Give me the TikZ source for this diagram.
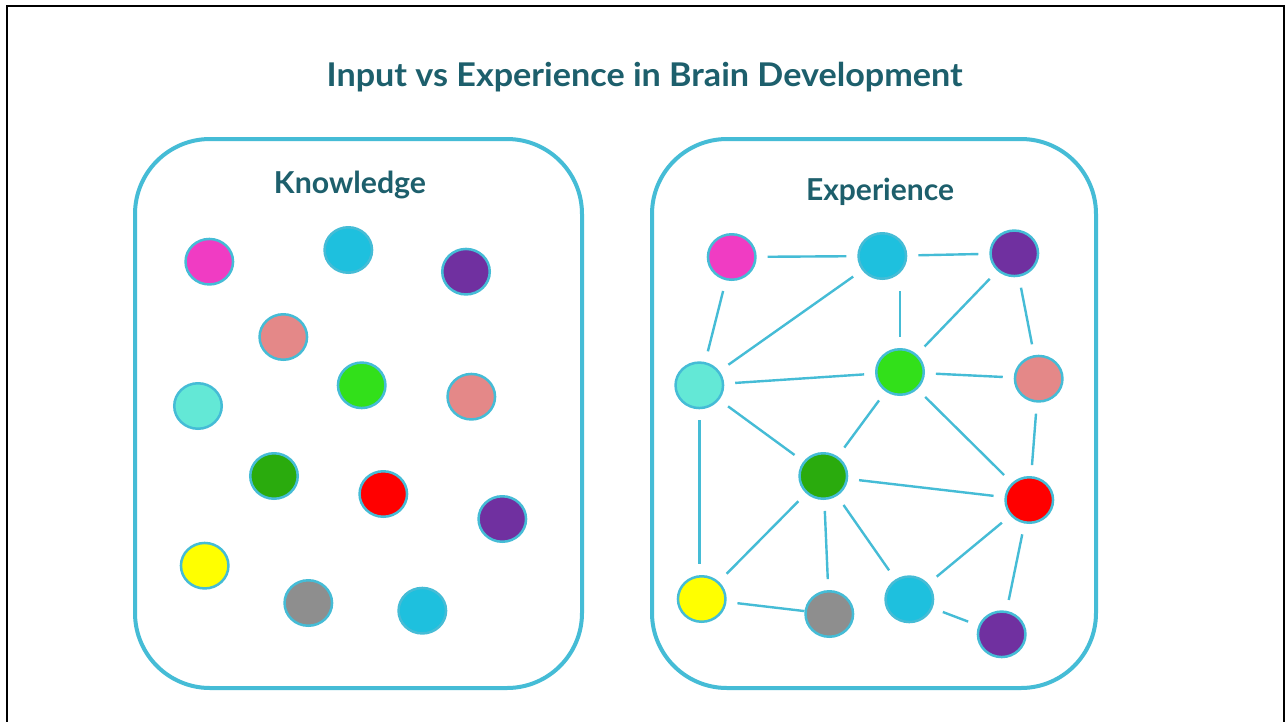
\documentclass[tikz,border=0pt]{standalone}
\usepackage{fontspec}
\usepackage{graphicx}
\setmainfont{Lato}
\usetikzlibrary{shapes.geometric}
\definecolor{outl}{HTML}{45BCD6}
\definecolor{titlec}{HTML}{1D5F6C}
\definecolor{cMag}{HTML}{F03CC3}
\definecolor{cCyan}{HTML}{1EC0DE}
\definecolor{cPur}{HTML}{7030A0}
\definecolor{cSal}{HTML}{E48888}
\definecolor{cMint}{HTML}{63E8D6}
\definecolor{cLime}{HTML}{32E01A}
\definecolor{cDGr}{HTML}{2AAB0D}
\definecolor{cRed}{HTML}{FF0000}
\definecolor{cYel}{HTML}{FFFF00}
\definecolor{cGray}{HTML}{8E8E8E}
\tikzset{
  dot/.style={ellipse, draw=outl, line width=2.5pt, minimum width=47.5pt, minimum height=45.5pt, inner sep=0pt},
  panel/.style={draw=outl, line width=4pt, rounded corners=75pt},
  link/.style={draw=outl, line width=2.4pt, shorten >=11pt, shorten <=11pt},
  head/.style={text=titlec, font=\bfseries\fontsize{30.2}{34}\selectfont, anchor=base, inner sep=0pt},
}
\begin{document}
\begin{tikzpicture}[x=1pt,y=-1pt]
\useasboundingbox (0,0) rectangle (1286,721);
\clip (0,0) rectangle (1286,721);
\fill[white] (0,0) rectangle (1286,721);
\draw[line width=2.3pt] (6.8,5.8) rectangle (1284,760);

\node[text=titlec, font=\bfseries\fontsize{32.7}{36}\selectfont, anchor=base, inner sep=0pt] (title) at (644.7,86.7) {\resizebox{636pt}{\height}{Input vs Experience in Brain Development}};

\draw[panel] (135,139) rectangle (582,688);
\draw[panel] (652,139) rectangle (1096,688);

\node[head] (klab) at (350,193.3) {\resizebox{152pt}{\height}{Knowledge}};
\node[head] (elab) at (880,200) {\resizebox{148pt}{\height}{Experience}};

% Knowledge: scattered
\node[dot, fill=cMag]  (k1)  at (209.3,261.7) {};
\node[dot, fill=cCyan] (k2)  at (348.3,250) {};
\node[dot, fill=cPur]  (k3)  at (466,271.7) {};
\node[dot, fill=cSal]  (k4)  at (283.3,337) {};
\node[dot, fill=cMint] (k5)  at (198,406) {};
\node[dot, fill=cLime] (k6)  at (361.7,385.3) {};
\node[dot, fill=cSal]  (k7)  at (471.3,396.7) {};
\node[dot, fill=cDGr]  (k8)  at (274,476) {};
\node[dot, fill=cRed]  (k9)  at (383.3,494) {};
\node[dot, fill=cPur]  (k10) at (502.3,519) {};
\node[dot, fill=cYel]  (k11) at (204.7,565.7) {};
\node[dot, fill=cGray] (k12) at (308.3,603) {};
\node[dot, fill=cCyan] (k13) at (422.3,610.7) {};

% Experience: network
\node[dot, fill=cMag]  (e1)  at (731.7,257) {};
\node[dot, fill=cCyan] (e2)  at (882.3,256) {};
\node[dot, fill=cPur]  (e3)  at (1014.3,253.3) {};
\node[dot, fill=cMint] (e4)  at (699.3,385.3) {};
\node[dot, fill=cLime] (e5)  at (900,372) {};
\node[dot, fill=cSal]  (e6)  at (1038.7,378.7) {};
\node[dot, fill=cDGr]  (e7)  at (823.3,476) {};
\node[dot, fill=cRed]  (e8)  at (1029.3,500) {};
\node[dot, fill=cYel]  (e9)  at (701.7,599) {};
\node[dot, fill=cGray] (e10) at (829.3,614) {};
\node[dot, fill=cCyan] (e11) at (909.3,599.3) {};
\node[dot, fill=cPur]  (e12) at (1001.7,634.3) {};

\draw[link] (e1) -- (e2);
\draw[link] (e2) -- (e3);
\draw[link] (e1) -- (e4);
\draw[link] (e2) -- (e4);
\draw[link] (e5.north |- e2.south) -- (e5.north);
\draw[link] (e3) -- (e5);
\draw[link] (e3) -- (e6);
\draw[link] (e4) -- (e5);
\draw[link] (e5) -- (e6);
\draw[link] (e4) -- (e7);
\draw[link] (e5) -- (e7);
\draw[link] (e5) -- (e8);
\draw[link] (e6) -- (e8);
\draw[link] (e4.south) -- (e9.north -| e4.south);
\draw[link] (e7) -- (e8);
\draw[link] (e7) -- (e9);
\draw[link] (e7) -- (e10);
\draw[link] (e7) -- (e11);
\draw[link] (e8) -- (e11);
\draw[link] (e8) -- (e12);
\draw[link, shorten >=0pt] (e9) -- (e10);
\draw[link] (e11) -- (e12);
\end{tikzpicture}
\end{document}
